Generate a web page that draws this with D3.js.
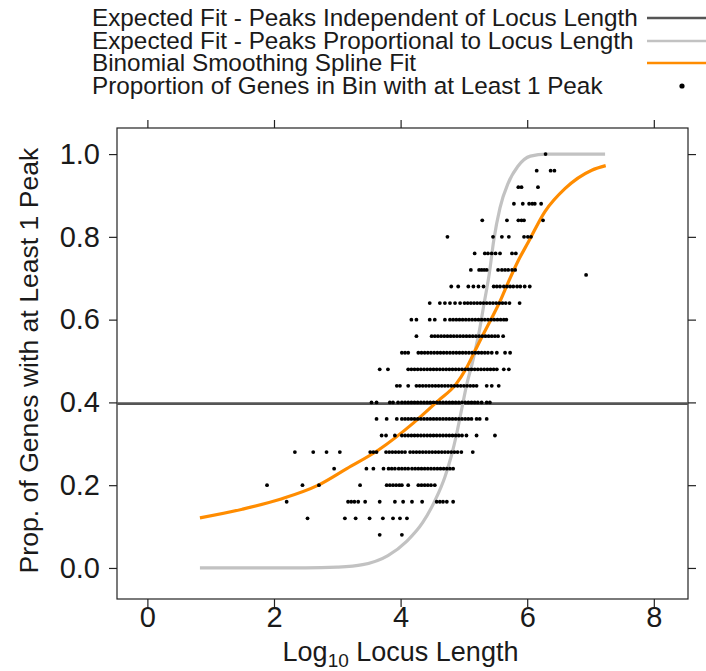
<!DOCTYPE html>
<html>
<head>
<meta charset="utf-8">
<script src="https://cdn.jsdelivr.net/npm/d3@7"></script>
<style>
  body { margin: 0; background: #fff; }
  text { font-family: "Liberation Sans", Arial, sans-serif; fill: #1a1a1a; }
</style>
</head>
<body>
<div id="chart"></div>
<script>
// tick values
const xTicks = [0, 2, 4, 6, 8];
const yTicks = [0, 0.2, 0.4, 0.6, 0.8, 1.0];

// expected fit, peaks independent of locus length (constant)
const flatLevel = 0.397;

// expected fit, peaks proportional to locus length
const propX = [0.83, 2.5, 3.0, 3.4, 3.8, 4.1, 4.35, 4.55, 4.7, 4.8, 4.88, 4.96, 5.04, 5.14, 5.24, 5.32, 5.4, 5.47, 5.57, 5.7, 5.85, 6.05, 6.3, 7.23];
const propY = [0, 0, 0.002, 0.008, 0.03, 0.065, 0.11, 0.165, 0.22, 0.27, 0.32, 0.38, 0.44, 0.5, 0.57, 0.64, 0.71, 0.79, 0.87, 0.93, 0.97, 0.995, 1.0, 1.0];

// binomial smoothing spline fit
const splineX = [0.83, 1.5, 2.1, 2.7, 3.15, 3.65, 4.2, 4.6, 4.87, 5.04, 5.17, 5.3, 5.44, 5.57, 5.7, 5.85, 6.02, 6.28, 6.6, 7.02, 7.24];
const splineY = [0.121, 0.142, 0.166, 0.2, 0.24, 0.285, 0.35, 0.405, 0.443, 0.483, 0.523, 0.563, 0.604, 0.644, 0.69, 0.74, 0.788, 0.861, 0.917, 0.961, 0.972];

// proportion of genes in bin with at least 1 peak: one row per proportion
const binRows = [
  [1.00, [6.29]],
  [0.96, [6.15, 6.37, 6.43]],
  [0.92, [5.86, 5.91, 6.17]],
  [0.88, [5.79, 5.93, 6.03, 6.08, 6.12, 6.22]],
  [0.84, [5.29, 5.68, 5.86, 5.91, 5.95, 6.25]],
  [0.80, [4.74, 5.46, 5.60, 5.71, 5.95, 6.01, 6.06]],
  [0.76, [5.17, 5.33, 5.38, 5.44, 5.50, 5.57, 5.76, 5.82]],
  [0.72, [5.11, 5.24, 5.28, 5.32, 5.36, 5.54, 5.60, 5.65, 5.70, 5.76, 5.81]],
  [0.708, [6.93]],
  [0.68, [4.80, 4.91, 5.07, 5.15, 5.23, 5.31, 5.47, 5.52, 5.57, 5.63, 5.68, 5.73, 5.78, 5.84, 5.89, 5.96, 6.04]],
  [0.64, [4.46, 4.62, 4.70, 4.78, 4.86, 4.94, 5.01, 5.06, 5.11, 5.16, 5.21, 5.26, 5.31, 5.36, 5.41, 5.46, 5.51, 5.56, 5.61, 5.66, 5.72, 5.88]],
  [0.60, [4.17, 4.25, 4.46, 4.54, 4.70, 4.78, 4.83, 4.88, 4.93, 4.98, 5.03, 5.08, 5.13, 5.18, 5.23, 5.28, 5.33, 5.38, 5.43, 5.48, 5.53, 5.58, 5.63, 5.67]],
  [0.56, [4.25, 4.49, 4.54, 4.59, 4.64, 4.69, 4.74, 4.79, 4.84, 4.89, 4.94, 4.99, 5.04, 5.09, 5.14, 5.19, 5.24, 5.29, 5.34, 5.39, 5.44, 5.49, 5.54, 5.62]],
  [0.52, [4.02, 4.07, 4.12, 4.28, 4.33, 4.38, 4.43, 4.48, 4.53, 4.58, 4.63, 4.68, 4.73, 4.78, 4.83, 4.88, 4.93, 4.98, 5.03, 5.08, 5.13, 5.18, 5.23, 5.28, 5.33, 5.38, 5.44, 5.52, 5.65, 5.73]],
  [0.48, [3.67, 3.80, 4.12, 4.17, 4.22, 4.27, 4.32, 4.37, 4.42, 4.47, 4.52, 4.57, 4.62, 4.67, 4.72, 4.77, 4.82, 4.87, 4.92, 4.97, 5.02, 5.07, 5.12, 5.17, 5.22, 5.27, 5.32, 5.37, 5.42, 5.47, 5.52, 5.63, 5.71]],
  [0.44, [3.94, 3.99, 4.12, 4.25, 4.30, 4.35, 4.40, 4.45, 4.50, 4.55, 4.60, 4.65, 4.70, 4.75, 4.80, 4.85, 4.90, 4.95, 5.00, 5.05, 5.10, 5.15, 5.20, 5.36, 5.44, 5.55]],
  [0.40, [3.54, 3.62, 3.83, 3.88, 3.96, 4.02, 4.07, 4.12, 4.17, 4.22, 4.27, 4.32, 4.37, 4.42, 4.47, 4.52, 4.57, 4.62, 4.67, 4.72, 4.77, 4.82, 4.87, 4.92, 4.97, 5.02, 5.07, 5.12, 5.17, 5.22, 5.28, 5.36, 5.41]],
  [0.36, [3.62, 3.78, 3.94, 4.02, 4.07, 4.12, 4.17, 4.22, 4.27, 4.32, 4.37, 4.42, 4.47, 4.52, 4.57, 4.62, 4.67, 4.72, 4.77, 4.82, 4.87, 4.92, 4.97, 5.02, 5.07, 5.12, 5.20, 5.25, 5.36]],
  [0.32, [3.70, 3.77, 3.91, 4.02, 4.07, 4.12, 4.17, 4.22, 4.27, 4.32, 4.37, 4.42, 4.47, 4.52, 4.57, 4.62, 4.67, 4.72, 4.77, 4.82, 4.87, 4.92, 4.97, 5.04, 5.20, 5.49]],
  [0.28, [2.33, 2.62, 2.83, 3.04, 3.52, 3.57, 3.62, 3.77, 3.82, 3.87, 3.92, 3.97, 4.02, 4.07, 4.15, 4.20, 4.25, 4.30, 4.35, 4.40, 4.45, 4.50, 4.55, 4.60, 4.65, 4.70, 4.75, 4.80, 4.85, 4.90, 4.96, 5.14]],
  [0.24, [2.95, 3.46, 3.57, 3.73, 3.81, 3.86, 3.91, 3.97, 4.02, 4.07, 4.12, 4.18, 4.23, 4.28, 4.33, 4.38, 4.43, 4.48, 4.53, 4.58, 4.63, 4.68, 4.73, 4.78, 4.83]],
  [0.20, [1.89, 2.45, 2.71, 3.36, 3.78, 3.83, 3.88, 3.93, 3.98, 4.02, 4.12, 4.28, 4.33, 4.38, 4.43, 4.48, 4.54]],
  [0.16, [2.20, 3.17, 3.22, 3.27, 3.33, 3.44, 3.67, 3.91, 4.04, 4.18, 4.34, 4.57, 4.62, 4.67, 4.73, 4.83]],
  [0.12, [2.53, 3.12, 3.29, 3.51, 3.72, 3.88, 3.99, 4.10]],
  [0.08, [3.67, 4.02]]
];

const legendLabels = [
  "Expected Fit - Peaks Independent of Locus Length",
  "Expected Fit - Peaks Proportional to Locus Length",
  "Binomial Smoothing Spline Fit",
  "Proportion of Genes in Bin with at Least 1 Peak"
];

(() => {
  const width = 706;
  const height = 671;
  const box = { left: 117, right: 688, top: 128, bottom: 599 };
  const colors = { flat: "#555555", prop: "#c2c2c2", spline: "#ff8c00", ink: "#222" };

  const svg = d3
    .select("#chart")
    .append("svg")
    .attr("width", width)
    .attr("height", height);

  const xScale = d3.scaleLinear().domain([-0.48, 8.54]).range([box.left, box.right]);
  const yScale = d3.scaleLinear().domain([-0.075, 1.063]).range([box.bottom, box.top]);

  svg.append("clipPath")
    .attr("id", "plot-clip")
    .append("rect")
    .attr("x", box.left)
    .attr("y", box.top)
    .attr("width", box.right - box.left)
    .attr("height", box.bottom - box.top);

  // Axes
  const styleAxis = (sel) => {
    sel.select(".domain").remove();
    sel.selectAll(".tick line").attr("stroke", colors.ink).attr("stroke-width", 1.2);
    sel.selectAll(".tick text").attr("font-size", "29px").attr("fill", "#1a1a1a");
  };

  svg.append("g")
    .attr("transform", `translate(0, ${box.bottom})`)
    .call(d3.axisBottom(xScale).tickValues(xTicks).tickSize(8).tickPadding(-1).tickFormat(d3.format("d")))
    .call(styleAxis);
  svg.append("g")
    .attr("transform", `translate(0, ${box.top})`)
    .call(d3.axisTop(xScale).tickValues(xTicks).tickSize(8).tickFormat(""))
    .call(styleAxis);
  svg.append("g")
    .attr("transform", `translate(${box.left}, 0)`)
    .call(d3.axisLeft(yScale).tickValues(yTicks).tickSize(8).tickPadding(9).tickFormat(d3.format(".1f")))
    .call(styleAxis);
  svg.append("g")
    .attr("transform", `translate(${box.right}, 0)`)
    .call(d3.axisRight(yScale).tickValues(yTicks).tickSize(8).tickFormat(""))
    .call(styleAxis);

  svg.append("rect")
    .attr("x", box.left)
    .attr("y", box.top)
    .attr("width", box.right - box.left)
    .attr("height", box.bottom - box.top)
    .attr("fill", "none")
    .attr("stroke", colors.ink)
    .attr("stroke-width", 1.2);

  // Axis titles
  const xTitle = svg.append("text")
    .attr("x", (box.left + box.right) / 2 - 2)
    .attr("y", 661)
    .attr("text-anchor", "middle")
    .attr("font-size", "27px");
  xTitle.append("tspan").text("Log");
  xTitle.append("tspan").attr("font-size", "19px").attr("dy", 6).text("10");
  xTitle.append("tspan").attr("dy", -6).text(" Locus Length");

  svg.append("text")
    .attr("transform", `translate(38, ${(box.top + box.bottom) / 2 - 3}) rotate(-90)`)
    .attr("text-anchor", "middle")
    .attr("font-size", "26.6px")
    .text("Prop. of Genes with at Least 1 Peak");

  const plot = svg.append("g").attr("clip-path", "url(#plot-clip)");

  // Expected fit lines
  plot.append("line")
    .attr("x1", box.left)
    .attr("x2", box.right)
    .attr("y1", yScale(flatLevel))
    .attr("y2", yScale(flatLevel))
    .attr("stroke", colors.flat)
    .attr("stroke-width", 2.6);

  const line = d3.line()
    .x((d) => xScale(d[0]))
    .y((d) => yScale(d[1]))
    .curve(d3.curveMonotoneX);

  plot.append("path")
    .datum(d3.zip(propX, propY))
    .attr("d", line)
    .attr("fill", "none")
    .attr("stroke", colors.prop)
    .attr("stroke-width", 3.2);

  plot.append("path")
    .datum(d3.zip(splineX, splineY))
    .attr("d", line)
    .attr("fill", "none")
    .attr("stroke", colors.spline)
    .attr("stroke-width", 3.2);

  // Binned points
  const points = binRows.flatMap(([p, xs]) => xs.map((x) => ({ x, p })));
  plot.selectAll("circle.bin")
    .data(points)
    .join("circle")
    .attr("class", "bin")
    .attr("cx", (d) => xScale(d.x))
    .attr("cy", (d) => yScale(d.p))
    .attr("r", 1.9)
    .attr("fill", "#000");

  // Legend
  const legend = svg.append("g").attr("class", "legend");
  const rowY = [18, 41, 63, 86];
  legend.selectAll("text")
    .data(legendLabels)
    .join("text")
    .attr("x", 92)
    .attr("y", (d, i) => rowY[i] + 8)
    .attr("font-size", "24.3px")
    .text((d) => d);

  const keyColors = [colors.flat, colors.prop, colors.spline];
  legend.selectAll("line")
    .data(keyColors)
    .join("line")
    .attr("x1", 647)
    .attr("x2", 712)
    .attr("y1", (d, i) => rowY[i])
    .attr("y2", (d, i) => rowY[i])
    .attr("stroke", (d) => d)
    .attr("stroke-width", 2.6);
  legend.append("circle")
    .attr("cx", 682)
    .attr("cy", rowY[3])
    .attr("r", 2.6)
    .attr("fill", "#000");
})();
</script>
</body>
</html>
